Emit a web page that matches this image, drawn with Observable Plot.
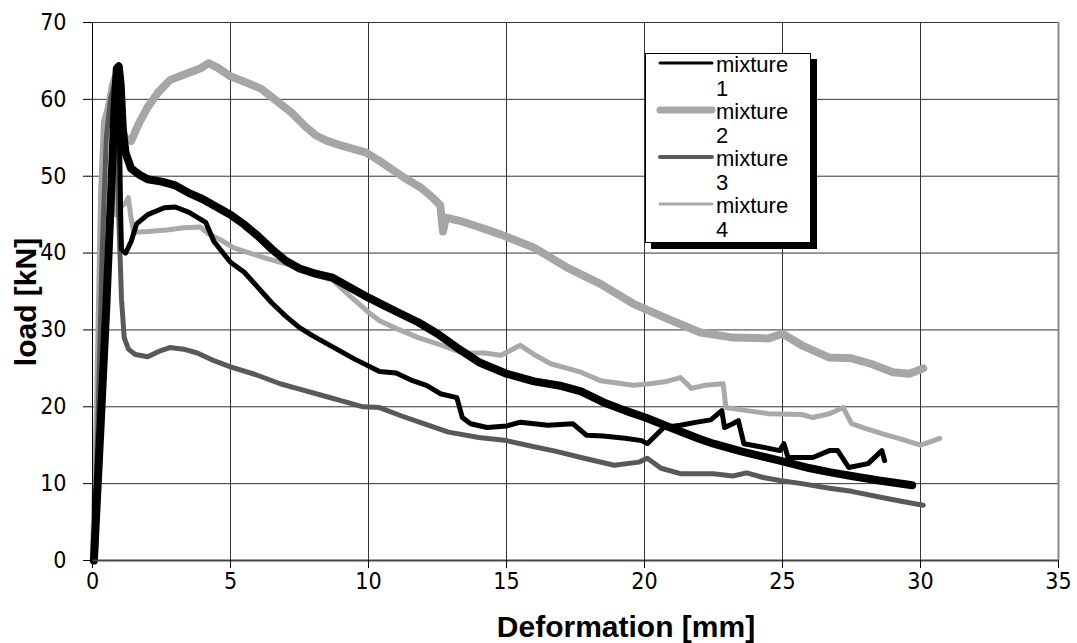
<!DOCTYPE html>
<html>
<head>
<meta charset="utf-8">
<script src="https://cdn.jsdelivr.net/npm/d3@7"></script>
<script src="https://cdn.jsdelivr.net/npm/@observablehq/plot@0.6"></script>
<style>
  html, body { margin: 0; padding: 0; background: #fff; }
  #wrap { position: relative; width: 1077px; height: 643px; overflow: hidden; font-family: "Liberation Sans", Arial, sans-serif; }
  #xlabel { position: absolute; left: 626px; top: 612px; transform: translateX(-50%); font-weight: bold; font-size: 30px; white-space: nowrap; line-height: 1; }
  #ylabel { position: absolute; left: 26px; top: 302px; transform: translate(-50%, -50%) rotate(-90deg); font-weight: bold; font-size: 30px; white-space: nowrap; line-height: 1; }
  #legend { position: absolute; left: 645px; top: 53px; width: 164px; height: 188px; background: #fff; border: 1px solid #000; box-shadow: 6px 6px 0 #000; }
  #legend .sw { position: absolute; left: 10px; }
  #legend .t { position: absolute; left: 70px; font-size: 22px; line-height: 18px; color: #000; }
</style>
</head>
<body>
<div id="wrap"></div>
<script>
// ---- data ----
const seriesNames = ["mixture 1", "mixture 2", "mixture 3", "mixture 4"];
const xTicks = [0, 5, 10, 15, 20, 25, 30, 35];
const yTicks = [0, 10, 20, 30, 40, 50, 60, 70];

// mixture 1 (thick black curve)
const mix1 = [
  [0.05,0],[0.3,18],[0.5,33],[0.7,50],[0.8,59],[0.88,64],[0.95,64.3],[1.02,62],[1.1,56],[1.2,53],
  [1.4,51],[1.7,50.2],[2,49.6],[2.5,49.3],[3,48.8],[3.5,47.8],[4,47],[4.5,46],[5,45],[5.5,43.7],
  [6,42.2],[6.5,40.5],[7,39],[7.5,38],[8,37.4],[8.7,36.8],[9.3,35.6],[10,34.2],[10.5,33.3],[11,32.4],
  [11.8,31],[12.5,29.5],[13.2,27.7],[14,25.8],[15,24.3],[16,23.3],[17,22.7],[17.7,22],[18.5,20.6],
  [19.3,19.5],[20.1,18.5],[21,17.2],[22,15.8],[22.5,15.2],[23.5,14.2],[24.9,13],[26,12],[26.7,11.5],
  [27.5,11],[28.5,10.4],[29.7,9.8]
];
// second black curve (thinner, unlabelled in legend)
const mix1b = [
  [0.05,0],[0.3,18],[0.5,33],[0.7,50],[0.85,62],[0.92,63],[0.98,55],[1.02,45],[1.05,40.5],[1.2,40],
  [1.4,41.5],[1.6,43.8],[2,45],[2.6,45.9],[3,46],[3.5,45.3],[4.1,44],[4.4,41.5],[5,38.8],[5.5,37.5],
  [6,35.5],[6.5,33.5],[7,31.8],[7.5,30.3],[8,29.2],[8.7,27.8],[9.5,26.2],[10.4,24.6],[11,24.4],
  [11.6,23.4],[12.1,22.8],[12.6,21.7],[13.2,21.2],[13.4,18.6],[13.7,17.8],[14.3,17.3],[15,17.5],
  [15.5,18],[16.5,17.6],[17.4,17.8],[17.9,16.3],[18.5,16.2],[19.3,15.9],[19.9,15.6],[20.1,15.2],
  [20.7,17.3],[21.3,17.6],[21.9,18],[22.4,18.3],[22.8,19.5],[22.9,17.3],[23.2,17.8],[23.4,18.2],
  [23.6,15.2],[24.2,14.8],[24.9,14.3],[25.05,15.2],[25.2,13.4],[26.1,13.4],[26.7,14.3],[27,14.3],
  [27.4,12.1],[28.1,12.6],[28.6,14.3],[28.7,13]
];
// mixture 2 (thick light grey)
const mix2 = [
  [0.05,0],[0.2,20],[0.35,48],[0.45,57],[0.6,59],[0.75,62],[0.85,63],[0.95,61],[1.05,57],[1.15,55],
  [1.4,54.6],[1.7,57],[2,59],[2.4,61],[2.8,62.5],[3.3,63.2],[3.9,64],[4.2,64.7],[4.5,64.2],[5,63],
  [5.5,62.3],[6.1,61.4],[6.6,60],[7.2,58.3],[7.7,56.5],[8.1,55.3],[8.5,54.6],[9,54],[9.5,53.5],
  [9.9,53.1],[10.4,52],[10.8,51],[11.3,49.8],[11.9,48.5],[12.3,47.3],[12.6,46.2],[12.7,42.8],
  [12.8,44.6],[13.3,44.2],[14,43.4],[14.8,42.4],[16,40.7],[16.6,39.4],[17.2,38.1],[18.4,36],
  [19.6,33.4],[20.8,31.5],[22,29.7],[23.2,29],[24.5,28.9],[25,29.5],[25.7,28],[26.7,26.4],
  [27.5,26.3],[28.2,25.6],[29,24.5],[29.6,24.3],[30.1,25]
];
// mixture 3 (dark grey)
const mix3 = [
  [0.05,0],[0.2,18],[0.35,40],[0.5,55],[0.65,60],[0.8,62],[0.88,58],[0.95,45],[1.05,34],[1.15,29],
  [1.3,27.5],[1.55,26.8],[2,26.5],[2.4,27.2],[2.8,27.7],[3.3,27.5],[3.8,27],[4.4,26],[5,25.2],
  [5.9,24.2],[6.8,23],[7.5,22.3],[8.3,21.5],[9,20.8],[9.8,20],[10.4,19.9],[11.2,18.8],[12,17.8],
  [12.9,16.7],[14,16],[15,15.6],[16,14.8],[16.8,14.2],[17.7,13.4],[18.9,12.4],[19.8,12.8],[20.1,13.3],
  [20.6,12],[21.3,11.3],[22.5,11.3],[23.2,11],[23.7,11.4],[24.3,10.8],[24.9,10.4],[25.7,10],
  [26.7,9.4],[27.5,9],[28.6,8.2],[29.3,7.7],[30.1,7.2]
];
// mixture 4 (lighter grey, thinner)
const mix4 = [
  [0.05,0],[0.2,20],[0.35,45],[0.5,58],[0.65,61],[0.72,57],[0.77,46],[0.85,45],[1,46],[1.2,46.5],
  [1.3,47.2],[1.4,44.5],[1.5,42.7],[2,42.8],[2.7,43],[3.3,43.3],[3.9,43.4],[4.2,42.5],[4.6,41.8],
  [5.1,40.7],[5.7,40],[6.3,39.3],[7,38.6],[7.5,38.1],[8.2,37],[8.7,36.5],[9.3,34.5],[10,32.3],
  [10.4,31.2],[11,30.2],[11.8,29],[12.5,28.2],[13.4,27],[14.2,27],[14.8,26.7],[15.5,28],[16,26.8],
  [16.6,25.6],[17.7,24.5],[18.4,23.4],[19.6,22.8],[20.2,23],[20.8,23.3],[21.3,23.8],[21.7,22.4],
  [22.2,22.8],[22.85,23],[22.95,19.9],[23.7,19.5],[24.5,19.1],[25.7,19],[26.1,18.6],[26.7,19.1],
  [27.2,19.9],[27.5,17.8],[28,17.2],[28.6,16.5],[29.3,15.8],[30,15],[30.4,15.5],[30.7,15.9]
];

const toRows = (arr, s) => arr.map(([x, y]) => ({x, y, s}));

const lineOpts = {x: "x", y: "y", strokeLinejoin: "round", strokeLinecap: "round", curve: "linear"};
const tickFont = "'Liberation Sans Narrow', 'Arial Narrow', 'DejaVu Sans Condensed', 'Liberation Sans', sans-serif";

const chart = Plot.plot({
  width: 1077,
  height: 643,
  marginLeft: 92,
  marginRight: 19,
  marginTop: 22,
  marginBottom: 83,
  style: {fontFamily: tickFont, fontSize: "23px", color: "#000", background: "#fff"},
  x: {domain: [0, 35]},
  y: {domain: [0, 70]},
  marks: [
    Plot.gridX(xTicks, {stroke: "#333", strokeOpacity: 1, strokeWidth: 1}),
    Plot.gridY(yTicks, {stroke: "#333", strokeOpacity: 1, strokeWidth: 1}),
    Plot.line(toRows(mix2, "mixture 2"), {...lineOpts, stroke: "#a6a6a6", strokeWidth: 8}),
    Plot.line(toRows(mix4, "mixture 4"), {...lineOpts, stroke: "#a9a9a9", strokeWidth: 5}),
    Plot.line(toRows(mix3, "mixture 3"), {...lineOpts, stroke: "#595959", strokeWidth: 5}),
    Plot.line(toRows(mix1b, "mixture 1b"), {...lineOpts, stroke: "#000", strokeWidth: 5}),
    Plot.line(toRows(mix1, "mixture 1"), {...lineOpts, stroke: "#000", strokeWidth: 8}),
    Plot.ruleX([35], {stroke: "#888", strokeWidth: 2}),
    Plot.ruleY([0], {stroke: "#444", strokeWidth: 2}),
    Plot.ruleX([0], {stroke: "#000", strokeWidth: 1}),
    Plot.axisX(xTicks, {tickSize: 8, tickPadding: 4, label: null, fontSize: 23, stroke: "#000"}),
    Plot.axisY(yTicks, {tickSize: 9, tickPadding: 17, label: null, fontSize: 23, stroke: "#000"})
  ]
});

const wrap = document.getElementById("wrap");
wrap.appendChild(chart);

const xl = document.createElement("div");
xl.id = "xlabel"; xl.textContent = "Deformation [mm]";
wrap.appendChild(xl);
const yl = document.createElement("div");
yl.id = "ylabel"; yl.textContent = "load [kN]";
wrap.appendChild(yl);

// legend
const legendStyles = [
  {color: "#000", w: 3},
  {color: "#a6a6a6", w: 7},
  {color: "#595959", w: 4},
  {color: "#a9a9a9", w: 3}
];
const lg = document.createElement("div");
lg.id = "legend";
seriesNames.forEach((name, i) => {
  const cy = 9 + i * 47; // centre of swatch relative to legend box
  const svgNS = "http://www.w3.org/2000/svg";
  const sv = document.createElementNS(svgNS, "svg");
  sv.setAttribute("class", "sw");
  sv.setAttribute("width", 60); sv.setAttribute("height", 12);
  sv.style.top = (cy - 6) + "px";
  const ln = document.createElementNS(svgNS, "line");
  ln.setAttribute("x1", 4); ln.setAttribute("x2", 56);
  ln.setAttribute("y1", 6); ln.setAttribute("y2", 6);
  ln.setAttribute("stroke", legendStyles[i].color);
  ln.setAttribute("stroke-width", legendStyles[i].w);
  ln.setAttribute("stroke-linecap", "round");
  sv.appendChild(ln);
  lg.appendChild(sv);
  const parts = name.split(" ");
  const t1 = document.createElement("div");
  t1.className = "t"; t1.textContent = parts[0];
  t1.style.top = (cy - 7) + "px";
  lg.appendChild(t1);
  const t2 = document.createElement("div");
  t2.className = "t"; t2.textContent = parts[1];
  t2.style.top = (cy + 17) + "px";
  lg.appendChild(t2);
});
wrap.appendChild(lg);
</script>
</body>
</html>
